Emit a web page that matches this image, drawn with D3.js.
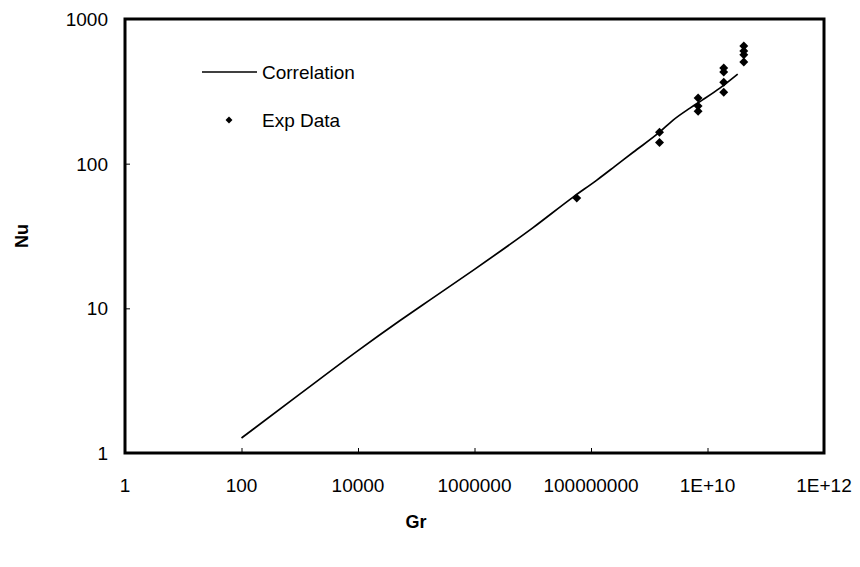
<!DOCTYPE html>
<html>
<head>
<meta charset="utf-8">
<script src="https://cdn.jsdelivr.net/npm/d3@7"></script>
<style>
  html, body { margin: 0; padding: 0; background: #fff; }
  svg { display: block; font-family: "Liberation Sans", Arial, sans-serif; }
</style>
</head>
<body>
<svg id="chart" width="860" height="567"></svg>
<script>
// Correlation curve (Gr, Nu)
const corrGr = [1e2, 1e3, 1e4, 5.2e4, 1.7e5, 1e6, 1e7, 5e7, 1.26e8, 2.5e8, 5.3e8, 1.5e9, 2.57e9, 5e9, 8.1e9, 1.63e10, 3.3e10];
const corrNu = [1.27, 2.55, 5.1, 8.2, 11.4, 18.6, 36, 59, 77, 95, 120, 165, 200, 242, 275, 333, 416];
// Experimental data (Gr, Nu)
const expGr = [5.7e7, 1.5e9, 1.5e9, 6.9e9, 6.9e9, 6.9e9, 1.9e10, 1.9e10, 1.9e10, 1.9e10, 4.2e10, 4.2e10, 4.2e10, 4.2e10];
const expNu = [57.8, 165, 140, 284, 250, 230, 458, 430, 365, 312, 650, 600, 565, 505];
// Axis ticks
const xTicks = [1, 1e2, 1e4, 1e6, 1e8, 1e10, 1e12];
const xTickLabels = ["1", "100", "10000", "1000000", "100000000", "1E+10", "1E+12"];
const yTicks = [1, 10, 100, 1000];
const yTickLabels = ["1", "10", "100", "1000"];
const legendLabels = ["Correlation", "Exp Data"];

const svg = d3.select("#chart");
const mLeft = 125, mRight = 824, mTop = 19, mBottom = 453;

const x = d3.scaleLog().domain([1, 1e12]).range([mLeft, mRight]);
const y = d3.scaleLog().domain([1, 1000]).range([mBottom, mTop]);

// Tick marks (inside)
const xAxis = d3.axisTop(x).tickValues(xTicks.slice(1, -1)).tickSize(5).tickFormat("");
svg.append("g").attr("transform", `translate(0,${mBottom})`).call(xAxis)
  .call(g => g.select(".domain").remove())
  .selectAll("line").attr("stroke", "#000");
const yAxis = d3.axisRight(y).tickValues(yTicks.slice(1, -1)).tickSize(5).tickFormat("");
svg.append("g").attr("transform", `translate(${mLeft},0)`).call(yAxis)
  .call(g => g.select(".domain").remove())
  .selectAll("line").attr("stroke", "#000");

// Tick labels
svg.append("g").selectAll("text").data(xTicks).join("text")
  .attr("x", d => x(d)).attr("y", 492)
  .attr("text-anchor", "middle").attr("font-size", 19).attr("fill", "#000")
  .text((d, i) => xTickLabels[i]);
svg.append("g").selectAll("text").data(yTicks).join("text")
  .attr("x", 108).attr("y", d => y(d) + 7)
  .attr("text-anchor", "end").attr("font-size", 19).attr("fill", "#000")
  .text((d, i) => yTickLabels[i]);

// Axis titles
svg.append("text").attr("x", 416).attr("y", 528).attr("text-anchor", "middle")
  .attr("font-size", 18).attr("font-weight", "bold").text("Gr");
svg.append("text").attr("transform", `translate(28,236) rotate(-90)`).attr("text-anchor", "middle")
  .attr("font-size", 18).attr("font-weight", "bold").text("Nu");

// Correlation line
const corr = corrGr.map((g, i) => [g, corrNu[i]]);
svg.append("path").datum(corr)
  .attr("fill", "none").attr("stroke", "#000").attr("stroke-width", 1.7)
  .attr("d", d3.line().curve(d3.curveMonotoneX).x(d => x(d[0])).y(d => y(d[1])));

// Exp data diamonds
const exp = expGr.map((g, i) => [g, expNu[i]]);
svg.append("g").selectAll("path").data(exp).join("path")
  .attr("transform", d => `translate(${x(d[0])},${y(d[1])}) rotate(45)`)
  .attr("d", d3.symbol().type(d3.symbolSquare).size(40))
  .attr("fill", "#000");

// Legend
svg.append("line").attr("x1", 202).attr("x2", 257).attr("y1", 72).attr("y2", 72)
  .attr("stroke", "#000").attr("stroke-width", 1.7);
svg.append("text").attr("x", 262).attr("y", 79).attr("font-size", 19).text(legendLabels[0]);
svg.append("path").attr("transform", "translate(229,120) rotate(45)")
  .attr("d", d3.symbol().type(d3.symbolSquare).size(24)).attr("fill", "#000");
svg.append("text").attr("x", 262).attr("y", 127).attr("font-size", 19).text(legendLabels[1]);

// Frame
svg.append("rect").attr("x", mLeft).attr("y", mTop).attr("width", mRight - mLeft).attr("height", mBottom - mTop)
  .attr("fill", "none").attr("stroke", "#000").attr("stroke-width", 3);
</script>
</body>
</html>
